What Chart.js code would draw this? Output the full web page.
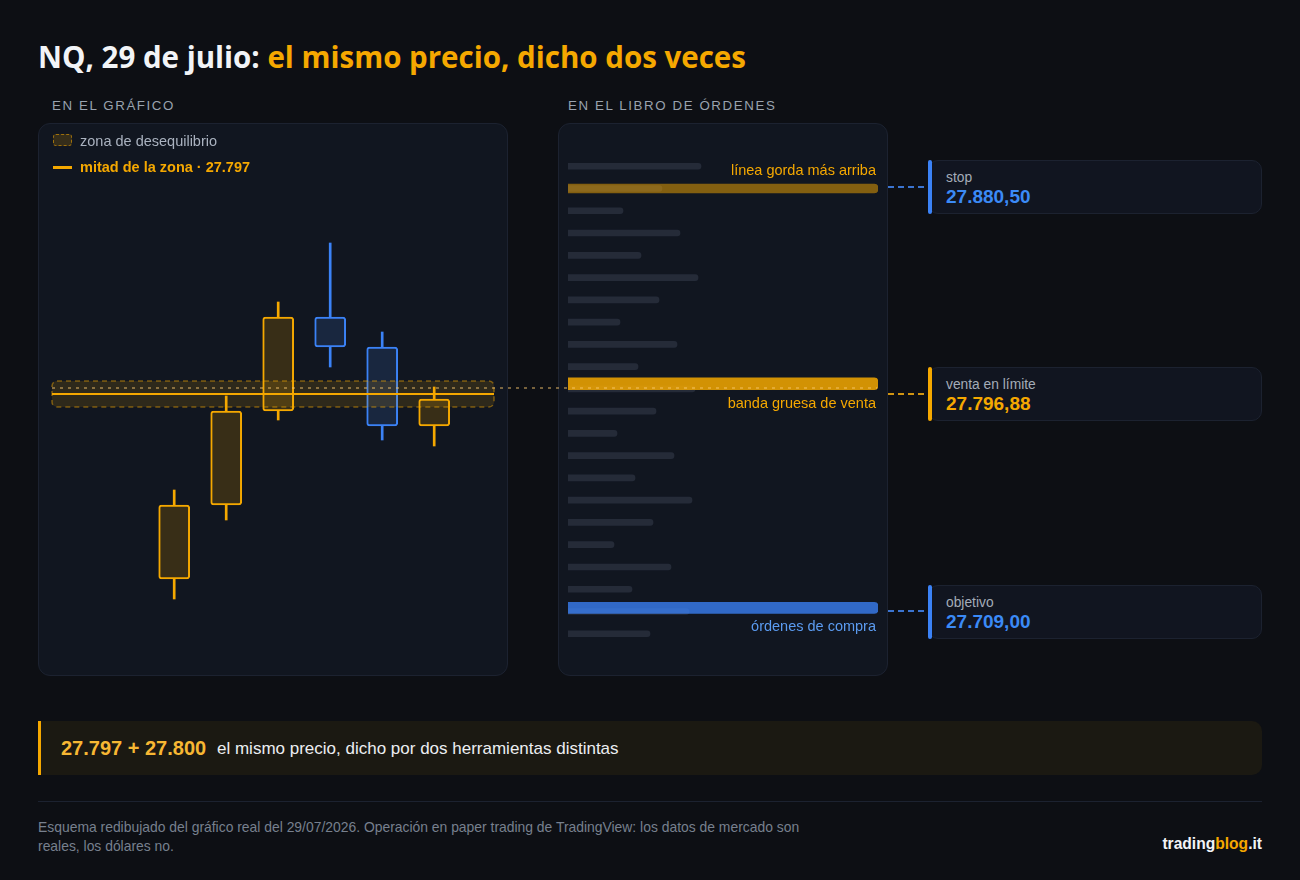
<!DOCTYPE html>
<html lang="es">
<head>
<meta charset="utf-8">
<title>NQ, 29 de julio</title>
<script src="https://cdn.jsdelivr.net/npm/chart.js@4.4.1/dist/chart.umd.min.js"></script>
<style>
  html, body { margin: 0; padding: 0; }
  body {
    width: 1300px; height: 880px; position: relative; overflow: hidden;
    background: #0d0f14; color: #e6e8ec;
    font-family: "Liberation Sans", Arial, sans-serif;
  }
  h1 {
    position: absolute; left: 38px; top: 36px; margin: 0;
    font-family: "Open Sans", "Noto Sans", sans-serif; font-weight: 700;
    font-size: 29.5px; letter-spacing: 0; color: #f2f4f7; white-space: nowrap;
  }
  h1 span { color: #f5a800; }
  .section {
    position: absolute; top: 98px; font-size: 13.3px; letter-spacing: 1.6px;
    color: #9aa3af;
  }
  .panel {
    position: absolute; top: 123px; height: 551px; border-radius: 12px;
    background: #111620; border: 1px solid #1c2230;
  }
  canvas { position: absolute; }
  .legend { position: absolute; left: 53px; font-size: 14.5px; line-height: 16px; z-index: 3; }
  .legend i { position: absolute; left: 0; display: block; }
  .legend b, .legend em { position: absolute; left: 27px; white-space: nowrap; font-style: normal; }
  .booklbl {
    position: absolute; width: 300px; left: 576px; text-align: right;
    font-size: 14.5px; line-height: 16px; z-index: 3; white-space: nowrap;
  }
  .card {
    position: absolute; left: 928px; width: 332px; height: 52px;
    background: #111520; border: 1px solid #1c2230; border-radius: 10px;
  }
  .card .bar { position: absolute; left: -1px; top: -1px; width: 4px; height: 54px; border-radius: 2px; }
  .card .lbl { position: absolute; left: 17px; top: 9px; font-size: 13.8px; color: #a4acb8; }
  .card .val { position: absolute; left: 17px; top: 25px; font-size: 19px; font-weight: 700; }
  .conn { position: absolute; left: 888px; width: 36px; height: 2px; }
  .callout {
    position: absolute; left: 38px; top: 721px; width: 1221px; height: 54px;
    background: #1b1912; border-left: 3px solid #f5a800; border-radius: 0 10px 10px 0;
  }
  .callout b { position: absolute; left: 20px; top: 16px; font-size: 20px; color: #f7b733; white-space: nowrap; }
  .callout span { position: absolute; left: 176px; top: 18px; font-size: 17px; color: #eceef1; white-space: nowrap; }
  .rule { position: absolute; left: 38px; top: 801px; width: 1224px; height: 1px; background: #1c2230; }
  .foot { position: absolute; left: 38px; top: 818px; font-size: 13.9px; line-height: 19px; color: #77808e; white-space: nowrap; }
  .brand { position: absolute; right: 38px; top: 835px; font-size: 15.6px; font-weight: 700; color: #f2f4f7; }
  .brand span { color: #f5a800; }
</style>
</head>
<body>
<h1>NQ, 29 de julio: <span>el mismo precio, dicho dos veces</span></h1>

<div class="section" style="left:52px">EN EL GRÁFICO</div>
<div class="section" style="left:568px">EN EL LIBRO DE ÓRDENES</div>

<div class="panel" style="left:38px; width:468px"></div>
<div class="panel" style="left:558px; width:328px"></div>

<div class="legend" style="top:133px">
  <i style="top:1px; width:17px; height:10px; border:1px dashed rgba(245,168,0,0.55); background:rgba(245,168,0,0.16); border-radius:3px"></i>
  <em style="color:#aab2bf">zona de desequilibrio</em>
</div>
<div class="legend" style="top:159px">
  <i style="top:7px; width:19px; height:3px; background:#f5a800"></i>
  <b style="color:#f5a800">mitad de la zona · 27.797</b>
</div>

<canvas id="bookChart" width="330" height="553" style="left:558px; top:123px; z-index:1"></canvas>
<canvas id="candleChart" width="842" height="553" style="left:38px; top:123px; z-index:2"></canvas>

<div class="booklbl" style="top:162px; color:#f5a800">línea gorda más arriba</div>
<div class="booklbl" style="top:395px; color:#f5a800">banda gruesa de venta</div>
<div class="booklbl" style="top:618px; color:#5b9bf0">órdenes de compra</div>

<div class="conn" style="top:186px; background:repeating-linear-gradient(to right, #3b74d0 0 6px, transparent 6px 10px)"></div>
<div class="conn" style="top:393px; background:repeating-linear-gradient(to right, #d09412 0 6px, transparent 6px 10px)"></div>
<div class="conn" style="top:610px; background:repeating-linear-gradient(to right, #3b74d0 0 6px, transparent 6px 10px)"></div>

<div class="card" style="top:160px">
  <div class="bar" style="background:#3b82f6"></div>
  <div class="lbl">stop</div>
  <div class="val" style="color:#3b8af6">27.880,50</div>
</div>
<div class="card" style="top:367px">
  <div class="bar" style="background:#f5a800"></div>
  <div class="lbl">venta en límite</div>
  <div class="val" style="color:#f5a800">27.796,88</div>
</div>
<div class="card" style="top:585px">
  <div class="bar" style="background:#3b82f6"></div>
  <div class="lbl">objetivo</div>
  <div class="val" style="color:#3b8af6">27.709,00</div>
</div>

<div class="callout">
  <b>27.797 + 27.800</b>
  <span>el mismo precio, dicho por dos herramientas distintas</span>
</div>

<div class="rule"></div>
<div class="foot">Esquema redibujado del gráfico real del 29/07/2026. Operación en paper trading de TradingView: los datos de mercado son<br>reales, los dólares no.</div>
<div class="brand">trading<span>blog</span>.it</div>

<script>
const candleIdx = [0, 1, 2, 3, 4, 5];
const opens  = [27704.5, 27741.5, 27788.5, 27835.5, 27820.5, 27781.0];
const closes = [27741.5, 27788.5, 27835.5, 27820.5, 27781.0, 27794.5];
const highs  = [27749.0, 27796.0, 27843.0, 27872.5, 27828.0, 27800.5];
const lows   = [27694.5, 27734.0, 27784.0, 27810.5, 27774.0, 27771.0];

// zona de desequilibrio y nivel del libro
const zoneLow = 27790.5;
const zoneHigh = 27803.5;
const zoneMid = 27797;
const bookLevel = 27800;

// libro de órdenes: filas (0 = arriba) y tamaño de cada fila
const bookRows  = [0, 1, 2, 3, 4, 5, 6, 7, 8, 9, 10, 11, 12, 13, 14, 15, 16, 17, 18, 19, 20, 21];
const bookSizes = [133, 94, 55, 112, 73, 130, 91, 52, 109, 70, 127, 88, 49, 106, 67, 124, 85, 46, 103, 64, 121, 82];
const bookMax = 310;
// bandas destacadas: posición en filas
const stopRow = 1.0;
const sellRow = 9.77;
const buyRow = 19.84;

const ORANGE = '#f5a800';
const BLUE = '#3b82f6';

document.addEventListener('DOMContentLoaded', () => {
    if (typeof Chart === 'undefined') {
        console.error('Chart.js no cargado.');
        return;
    }

    const isUp = i => closes[i] >= opens[i];

    // zona, línea media y línea punteada hacia el libro
    const zonePlugin = {
        id: 'zone',
        afterDatasetsDraw(chart) {
            const { ctx, chartArea, scales } = chart;
            const y = scales.y;
            const top = y.getPixelForValue(zoneHigh);
            const bot = y.getPixelForValue(zoneLow);
            const left = chartArea.left;
            const right = chartArea.right;
            ctx.save();
            ctx.beginPath();
            ctx.roundRect(left, top, right - left, bot - top, 5);
            ctx.fillStyle = 'rgba(245,168,0,0.13)';
            ctx.fill();
            ctx.setLineDash([5, 4]);
            ctx.lineWidth = 1.5;
            ctx.strokeStyle = 'rgba(245,168,0,0.45)';
            ctx.stroke();

            const ym = y.getPixelForValue(zoneMid);
            ctx.setLineDash([]);
            ctx.lineWidth = 2;
            ctx.strokeStyle = ORANGE;
            ctx.beginPath();
            ctx.moveTo(left, ym);
            ctx.lineTo(right, ym);
            ctx.stroke();

            const yb = y.getPixelForValue(bookLevel);
            ctx.setLineDash([3, 5]);
            ctx.lineWidth = 1.5;
            ctx.strokeStyle = 'rgba(250,200,110,0.6)';
            ctx.beginPath();
            ctx.moveTo(left, yb);
            ctx.lineTo(chart.width - 3, yb);
            ctx.stroke();
            ctx.restore();
        }
    };

    new Chart(document.getElementById('candleChart'), {
        type: 'bar',
        data: {
            datasets: [
                {
                    label: 'cuerpo',
                    data: candleIdx.map(i => ({ x: i, y: [opens[i], closes[i]] })),
                    backgroundColor: candleIdx.map(i => isUp(i) ? '#382e17' : '#19273f'),
                    borderColor: candleIdx.map(i => isUp(i) ? ORANGE : BLUE),
                    borderWidth: 2,
                    borderRadius: 3,
                    borderSkipped: false,
                    barThickness: 31
                },
                {
                    label: 'mecha',
                    data: candleIdx.map(i => ({ x: i, y: [lows[i], highs[i]] })),
                    backgroundColor: candleIdx.map(i => isUp(i) ? ORANGE : BLUE),
                    borderWidth: 0,
                    barThickness: 2
                }
            ]
        },
        options: {
            responsive: false,
            animation: false,
            events: [],
            datasets: { bar: { grouped: false } },
            layout: { padding: { left: 14, right: 386, top: 75, bottom: 28 } },
            plugins: { legend: { display: false }, tooltip: { enabled: false } },
            scales: {
                x: { type: 'linear', min: -2.35, max: 6.15, offset: false, display: false },
                y: { min: 27670, max: 27895, display: false }
            }
        },
        plugins: [zonePlugin]
    });

    new Chart(document.getElementById('bookChart'), {
        type: 'bar',
        data: {
            datasets: [
                {
                    label: 'stop',
                    data: [{ x: bookMax, y: stopRow }],
                    backgroundColor: 'rgba(245,168,0,0.5)',
                    borderRadius: 4,
                    barThickness: 9
                },
                {
                    label: 'venta',
                    data: [{ x: bookMax, y: sellRow }],
                    backgroundColor: 'rgba(245,168,0,0.85)',
                    borderRadius: 4,
                    barThickness: 12
                },
                {
                    label: 'compra',
                    data: [{ x: bookMax, y: buyRow }],
                    backgroundColor: 'rgba(59,130,246,0.78)',
                    borderRadius: 4,
                    barThickness: 11
                },
                {
                    label: 'niveles',
                    data: bookRows.map((r, i) => ({ x: bookSizes[i], y: r })),
                    backgroundColor: '#252b38',
                    borderRadius: 3,
                    barThickness: 6
                }
            ]
        },
        options: {
            indexAxis: 'y',
            responsive: false,
            animation: false,
            events: [],
            datasets: { bar: { grouped: false } },
            layout: { padding: { left: 10, right: 10, top: 21, bottom: 20 } },
            plugins: { legend: { display: false }, tooltip: { enabled: false } },
            scales: {
                x: { type: 'linear', min: 0, max: bookMax, display: false },
                y: { type: 'linear', min: -1, max: 22, reverse: true, offset: false, display: false }
            }
        }
    });
});
</script>
</body>
</html>
